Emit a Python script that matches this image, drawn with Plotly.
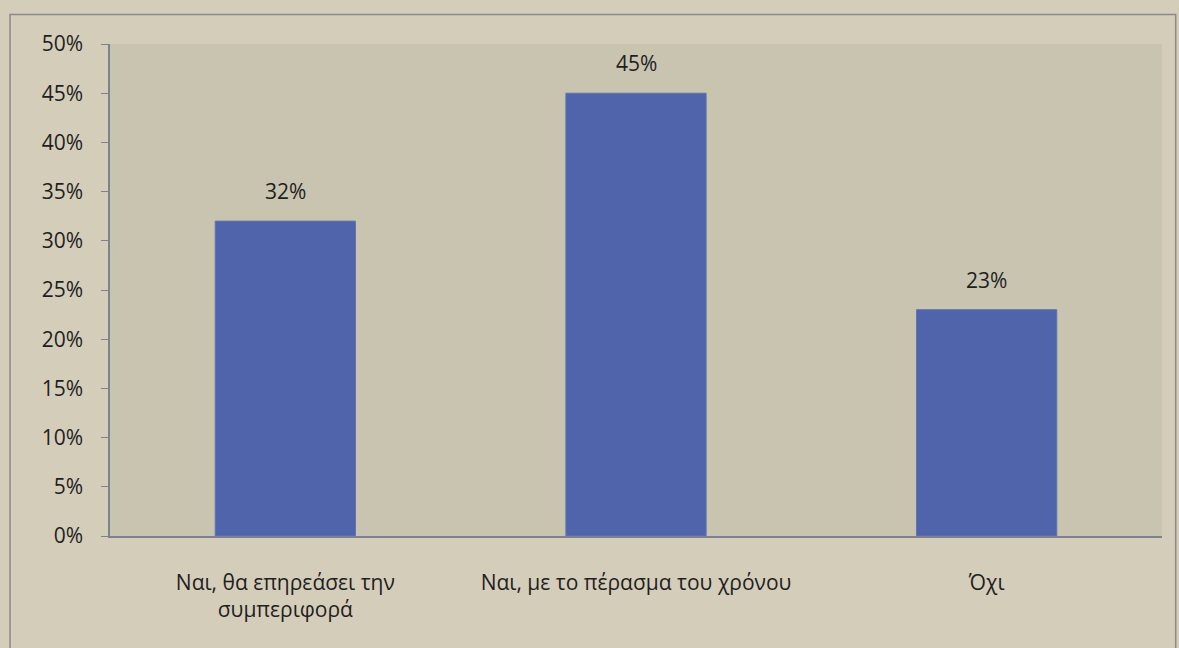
import plotly.graph_objects as go

categories = ["Ναι, θα επηρεάσει την<br>συμπεριφορά", "Ναι, με το πέρασμα του χρόνου", "Όχι"]
values = [0.32, 0.45, 0.23]
labels = ["32%", "45%", "23%"]
y_ticks = [0, 0.05, 0.10, 0.15, 0.20, 0.25, 0.30, 0.35, 0.40, 0.45, 0.50]
y_tick_text = ["0%", "5%", "10%", "15%", "20%", "25%", "30%", "35%", "40%", "45%", "50%"]

font_family = "Open Sans, Noto Sans, DejaVu Sans, sans-serif"
text_color = "#1f1f1f"

fig = go.Figure()
fig.add_trace(go.Bar(
    x=categories,
    y=values,
    marker=dict(color="#4f64aa", line=dict(color="#6274b4", width=1)),
    hoverinfo="skip",
))

for c, v, t in zip(categories, values, labels):
    fig.add_annotation(x=c, y=v, text=t, showarrow=False, yanchor="bottom",
                       yshift=14, font=dict(size=21, color=text_color, family=font_family))

fig.update_layout(
    width=1179, height=648,
    margin=dict(l=110, r=17, t=44, b=112),
    paper_bgcolor="#d4cdb9",
    plot_bgcolor="#c9c4b0",
    bargap=0.6,
    showlegend=False,
    font=dict(family=font_family, size=21, color=text_color),
)
fig.update_yaxes(
    range=[0, 0.5], tickvals=y_ticks, ticktext=y_tick_text,
    showgrid=False, zeroline=False,
    showline=True, linecolor="#7d8290", linewidth=1.5,
    ticks="outside", ticklen=7, tickcolor="#7d8290",
    ticklabelstandoff=14,
    tickfont=dict(size=21, color=text_color),
)
fig.update_xaxes(
    showgrid=False, showline=True, linecolor="#7d8290", linewidth=1.5,
    ticks="", ticklabelstandoff=27,
    tickfont=dict(size=21, color=text_color),
)
fig.add_shape(type="rect", xref="paper", yref="paper", x0=-0.095, x1=1.013, y0=-0.235, y1=1.06,
              line=dict(color="#8a8a8a", width=1.5), fillcolor="rgba(0,0,0,0)", layer="below")

fig.write_html("out.html", config={"displayModeBar": False},
               post_script="document.body.style.margin='0';")
